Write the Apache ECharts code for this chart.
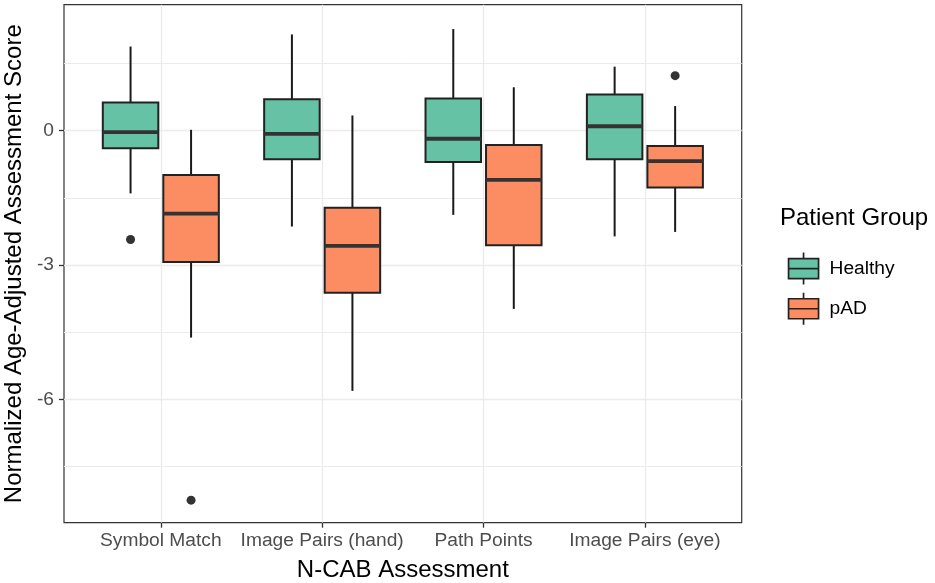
<!DOCTYPE html>
<html><head><meta charset="utf-8">
<script src="https://cdn.jsdelivr.net/npm/echarts@6/dist/echarts.min.js"></script>
<style>html,body{margin:0;padding:0;background:#fff}#chart{width:935px;height:583px}</style>
</head><body><div id="chart"></div>
<script>
const categories = ['Symbol Match', 'Image Pairs (hand)', 'Path Points', 'Image Pairs (eye)'];
const groups = ['Healthy', 'pAD'];
// each row: [lower whisker, Q1, median, Q3, upper whisker]
const healthyBoxes = [
  [-1.40, -0.39, -0.03, 0.63, 1.88],
  [-2.14, -0.64, -0.07, 0.70, 2.15],
  [-1.88, -0.70, -0.18, 0.72, 2.27],
  [-2.36, -0.64, 0.10, 0.81, 1.43]
];
const padBoxes = [
  [-4.62, -2.93, -1.85, -0.99, 0.02],
  [-5.81, -3.62, -2.57, -1.72, 0.34],
  [-3.98, -2.56, -1.10, -0.32, 0.97],
  [-2.26, -1.27, -0.68, -0.34, 0.55]
];
// [category index, value]
const healthyOutliers = [[0, -2.43]];
const padOutliers = [[0, -8.25], [3, 1.23]];
const yMajorTicks = [-6, -3, 0];
const yMinorTicks = [-7.5, -4.5, -1.5, 1.5];

const DODGE = 0.1875, HALF = 0.172;
const colors = { Healthy: '#66C2A5', pAD: '#FC8D62' };
const FONT = 'Liberation Sans, Arial, Helvetica, sans-serif';

function boxRenderer(offset) {
  return function (params, api) {
    const x = api.value(0) + offset;
    const lo = api.value(1), q1 = api.value(2), med = api.value(3), q3 = api.value(4), hi = api.value(5);
    const pTL = api.coord([x - HALF, q3]);
    const pBR = api.coord([x + HALF, q1]);
    const pMed = api.coord([x, med]);
    const pHi = api.coord([x, hi]);
    const pLo = api.coord([x, lo]);
    const wStyle = { stroke: '#1a1a1a', lineWidth: 2 };
    return {
      type: 'group',
      children: [
        { type: 'line', shape: { x1: pMed[0], y1: pHi[1], x2: pMed[0], y2: pTL[1] }, style: wStyle },
        { type: 'line', shape: { x1: pMed[0], y1: pBR[1], x2: pMed[0], y2: pLo[1] }, style: wStyle },
        { type: 'rect', shape: { x: pTL[0], y: pTL[1], width: pBR[0] - pTL[0], height: pBR[1] - pTL[1] },
          style: { fill: api.visual('color'), stroke: '#222', lineWidth: 2 } },
        { type: 'line', shape: { x1: pTL[0], y1: pMed[1], x2: pBR[0], y2: pMed[1] },
          style: { stroke: '#333', lineWidth: 3.8 } }
      ]
    };
  };
}

function boxSeries(name, boxes, offset) {
  return {
    type: 'custom', name: name,
    itemStyle: { color: colors[name] },
    encode: { x: 0, y: [1, 2, 3, 4, 5] },
    data: boxes.map((b, i) => [i + 1].concat(b)),
    renderItem: boxRenderer(offset),
    z: 3
  };
}
function outlierSeries(name, pts, offset) {
  return {
    type: 'scatter', name: name + ' outliers',
    data: pts.map(p => [p[0] + 1 + offset, p[1]]),
    symbolSize: 9,
    itemStyle: { color: '#333', opacity: 1 },
    z: 4
  };
}

const iconPath = 'path://M15,0L15,6M0,6L30,6L30,26L0,26ZM0,16L30,16M15,26L15,32';

const chart = echarts.init(document.getElementById('chart'));
chart.setOption({
  animation: false,
  backgroundColor: '#fff',
  textStyle: { fontFamily: FONT },
  grid: { left: 64, right: 193.3, top: 4.7, bottom: 60.3, show: true, borderColor: '#333', borderWidth: 1.2, backgroundColor: 'transparent', containLabel: false, outerBoundsMode: 'none' },
  xAxis: {
    type: 'value', min: 0.4, max: 4.6,
    name: 'N-CAB Assessment', nameLocation: 'middle', nameGap: 36,
    nameTextStyle: { fontSize: 24, color: '#000', fontFamily: FONT },
    axisLine: { show: false, onZero: false },
    axisTick: { show: true, customValues: [1, 2, 3, 4], length: 5, lineStyle: { color: '#333', width: 1.3 } },
    axisLabel: { customValues: [1, 2, 3, 4], formatter: v => categories[Math.round(v) - 1], fontSize: 19.2, color: '#4D4D4D', margin: 8.5, fontFamily: FONT },
    splitLine: { show: true, lineStyle: { color: '#EBEBEB', width: 1.3 } }
  },
  yAxis: [{
    type: 'value', min: -8.754, max: 2.814,
    name: 'Normalized Age-Adjusted Assessment Score', nameLocation: 'middle', nameGap: 36,
    nameTextStyle: { fontSize: 24, color: '#000', fontFamily: FONT },
    axisLine: { show: false, onZero: false },
    axisTick: { show: true, customValues: yMajorTicks, length: 5, lineStyle: { color: '#333', width: 1.3 } },
    axisLabel: { customValues: yMajorTicks, fontSize: 19.2, color: '#4D4D4D', margin: 10, fontFamily: FONT },
    splitLine: { show: true, lineStyle: { color: '#EBEBEB', width: 1.3 } }
  }, {
    type: 'value', min: -8.754, max: 2.814, position: 'right',
    axisLine: { show: false, onZero: false },
    axisTick: { show: false, customValues: yMinorTicks },
    axisLabel: { show: false, customValues: yMinorTicks },
    splitLine: { show: true, lineStyle: { color: '#EBEBEB', width: 1 } }
  }],
  legend: {
    data: groups, orient: 'vertical', left: 782.7, top: 246.7,
    itemWidth: 30, itemHeight: 32, itemGap: 6.5, icon: iconPath,
    itemStyle: { borderColor: '#222', borderWidth: 1.7 },
    textStyle: { fontSize: 19.2, color: '#000', fontFamily: FONT, padding: [0, 0, 0, 6] }
  },
  graphic: [{
    type: 'text', left: 780, top: 206,
    style: { text: 'Patient Group', fontSize: 24, fill: '#000', fontFamily: FONT }
  }],
  series: [
    boxSeries('Healthy', healthyBoxes, -DODGE),
    boxSeries('pAD', padBoxes, DODGE),
    outlierSeries('Healthy', healthyOutliers, -DODGE),
    outlierSeries('pAD', padOutliers, DODGE)
  ]
});
</script></body></html>
